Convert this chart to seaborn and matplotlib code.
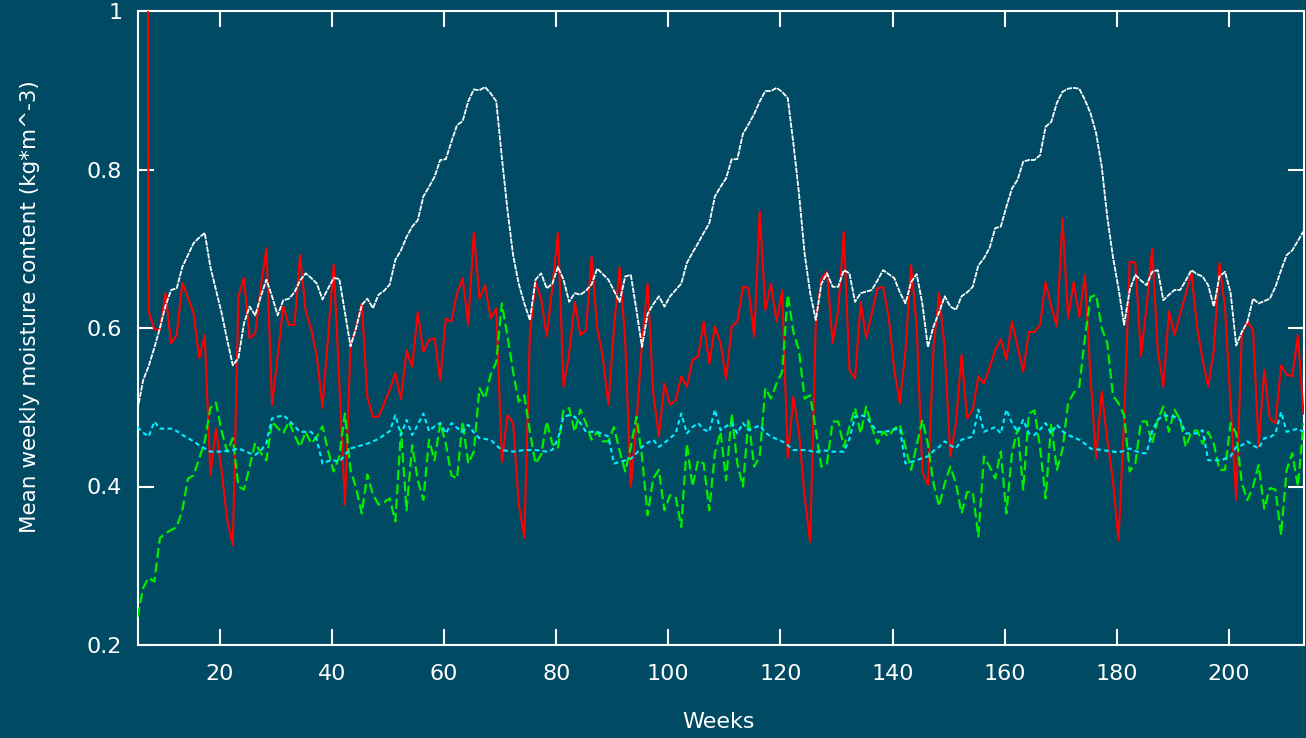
import numpy as np
import pandas as pd
import matplotlib
matplotlib.use("Agg")
import matplotlib.pyplot as plt
import seaborn as sns

# ---------------------------------------------------------------------------
# Weekly mean moisture content, one value per week starting at week 5.3
# ---------------------------------------------------------------------------
FIRST_WEEK = 5.3

white = [
    0.497, 0.534, 0.552, 0.575, 0.600, 0.628, 0.648, 0.650, 0.677, 0.692,  # 5
    0.707, 0.714, 0.720, 0.677, 0.648, 0.619, 0.585, 0.553, 0.562, 0.606,  # 15
    0.627, 0.616, 0.640, 0.661, 0.640, 0.616, 0.635, 0.637, 0.645, 0.660,  # 25
    0.669, 0.663, 0.656, 0.636, 0.650, 0.663, 0.662, 0.620, 0.577, 0.600,  # 35
    0.629, 0.637, 0.625, 0.642, 0.647, 0.655, 0.686, 0.698, 0.715, 0.728,  # 45
    0.736, 0.766, 0.778, 0.791, 0.812, 0.813, 0.835, 0.856, 0.861, 0.886,  # 55
    0.901, 0.900, 0.904, 0.896, 0.886, 0.815, 0.749, 0.692, 0.656, 0.631,  # 65
    0.610, 0.661, 0.669, 0.650, 0.656, 0.677, 0.661, 0.633, 0.644, 0.642,  # 75
    0.647, 0.655, 0.675, 0.668, 0.661, 0.647, 0.633, 0.665, 0.667, 0.623,  # 85
    0.576, 0.618, 0.630, 0.640, 0.627, 0.640, 0.648, 0.656, 0.682, 0.695,  # 95
    0.707, 0.720, 0.732, 0.766, 0.778, 0.789, 0.813, 0.813, 0.845, 0.857,  # 105
    0.870, 0.886, 0.899, 0.899, 0.903, 0.898, 0.890, 0.833, 0.770, 0.694,  # 115
    0.644, 0.610, 0.656, 0.669, 0.652, 0.652, 0.673, 0.669, 0.633, 0.644,  # 125
    0.646, 0.648, 0.660, 0.673, 0.668, 0.663, 0.645, 0.631, 0.658, 0.668,  # 135
    0.631, 0.576, 0.602, 0.620, 0.640, 0.627, 0.623, 0.640, 0.645, 0.652,  # 145
    0.679, 0.688, 0.701, 0.726, 0.728, 0.753, 0.776, 0.787, 0.810, 0.812,  # 155
    0.812, 0.818, 0.854, 0.860, 0.884, 0.898, 0.902, 0.903, 0.902, 0.888,  # 165
    0.871, 0.846, 0.804, 0.740, 0.690, 0.650, 0.604, 0.648, 0.667, 0.660,  # 175
    0.654, 0.671, 0.673, 0.635, 0.642, 0.648, 0.648, 0.660, 0.673, 0.668,  # 185
    0.665, 0.654, 0.627, 0.665, 0.671, 0.644, 0.578, 0.595, 0.608, 0.637,  # 195
    0.631, 0.634, 0.637, 0.652, 0.673, 0.692, 0.698, 0.710, 0.722,         # 205
]

red = [
    3.600, 3.500, 0.621, 0.598, 0.598, 0.644, 0.581, 0.591, 0.657, 0.638,  # 5
    0.619, 0.562, 0.591, 0.414, 0.473, 0.420, 0.358, 0.326, 0.640, 0.663,  # 15
    0.587, 0.593, 0.652, 0.701, 0.503, 0.565, 0.627, 0.604, 0.604, 0.692,  # 25
    0.621, 0.598, 0.564, 0.499, 0.590, 0.680, 0.530, 0.377, 0.580, 0.600,  # 35
    0.631, 0.513, 0.488, 0.488, 0.505, 0.522, 0.543, 0.510, 0.572, 0.551,  # 45
    0.620, 0.570, 0.585, 0.587, 0.534, 0.612, 0.608, 0.644, 0.663, 0.604,  # 55
    0.720, 0.637, 0.654, 0.612, 0.625, 0.431, 0.490, 0.480, 0.379, 0.335,  # 65
    0.593, 0.658, 0.637, 0.589, 0.652, 0.720, 0.526, 0.568, 0.633, 0.591,  # 75
    0.597, 0.690, 0.600, 0.564, 0.503, 0.600, 0.677, 0.585, 0.400, 0.480,  # 85
    0.581, 0.656, 0.518, 0.463, 0.530, 0.503, 0.509, 0.539, 0.526, 0.560,  # 95
    0.564, 0.608, 0.555, 0.602, 0.581, 0.536, 0.602, 0.608, 0.652, 0.650,  # 105
    0.589, 0.747, 0.623, 0.656, 0.608, 0.648, 0.436, 0.513, 0.469, 0.387,  # 115
    0.330, 0.606, 0.663, 0.671, 0.581, 0.623, 0.721, 0.547, 0.536, 0.633,  # 125
    0.587, 0.619, 0.650, 0.652, 0.614, 0.547, 0.505, 0.572, 0.679, 0.602,  # 135
    0.419, 0.402, 0.576, 0.644, 0.572, 0.438, 0.480, 0.566, 0.486, 0.497,  # 145
    0.539, 0.530, 0.550, 0.572, 0.586, 0.560, 0.608, 0.577, 0.545, 0.595,  # 155
    0.595, 0.604, 0.658, 0.627, 0.602, 0.738, 0.612, 0.658, 0.614, 0.667,  # 165
    0.539, 0.436, 0.520, 0.459, 0.408, 0.332, 0.484, 0.684, 0.682, 0.564,  # 175
    0.627, 0.700, 0.572, 0.526, 0.621, 0.591, 0.618, 0.643, 0.669, 0.602,  # 185
    0.560, 0.526, 0.572, 0.682, 0.625, 0.505, 0.383, 0.593, 0.608, 0.597,  # 195
    0.450, 0.547, 0.486, 0.480, 0.553, 0.541, 0.539, 0.591, 0.492,         # 205
]

green = [
    0.235, 0.272, 0.285, 0.280, 0.335, 0.341, 0.345, 0.349, 0.370, 0.410,  # 5
    0.414, 0.435, 0.457, 0.499, 0.506, 0.470, 0.444, 0.461, 0.400, 0.396,  # 15
    0.425, 0.455, 0.442, 0.433, 0.482, 0.474, 0.467, 0.482, 0.465, 0.450,  # 25
    0.469, 0.454, 0.463, 0.476, 0.445, 0.419, 0.438, 0.492, 0.421, 0.398,  # 35
    0.366, 0.415, 0.390, 0.377, 0.380, 0.385, 0.356, 0.471, 0.370, 0.452,  # 45
    0.408, 0.383, 0.459, 0.433, 0.480, 0.454, 0.414, 0.410, 0.482, 0.429,  # 55
    0.444, 0.524, 0.511, 0.541, 0.557, 0.631, 0.590, 0.545, 0.507, 0.515,  # 65
    0.469, 0.429, 0.440, 0.482, 0.454, 0.448, 0.497, 0.499, 0.469, 0.497,  # 75
    0.480, 0.459, 0.469, 0.457, 0.457, 0.475, 0.445, 0.419, 0.450, 0.488,  # 85
    0.438, 0.364, 0.410, 0.421, 0.370, 0.389, 0.387, 0.349, 0.454, 0.400,  # 95
    0.433, 0.429, 0.370, 0.442, 0.469, 0.408, 0.492, 0.429, 0.400, 0.486,  # 105
    0.425, 0.438, 0.524, 0.511, 0.530, 0.545, 0.642, 0.595, 0.572, 0.511,  # 115
    0.515, 0.471, 0.425, 0.429, 0.482, 0.482, 0.450, 0.475, 0.499, 0.467,  # 125
    0.501, 0.475, 0.454, 0.469, 0.463, 0.473, 0.478, 0.450, 0.421, 0.452,  # 135
    0.484, 0.454, 0.404, 0.375, 0.404, 0.425, 0.404, 0.366, 0.393, 0.393,  # 145
    0.337, 0.438, 0.425, 0.410, 0.444, 0.366, 0.442, 0.473, 0.396, 0.492,  # 155
    0.496, 0.450, 0.385, 0.480, 0.421, 0.446, 0.505, 0.518, 0.526, 0.587,  # 165
    0.639, 0.642, 0.600, 0.581, 0.515, 0.505, 0.490, 0.419, 0.429, 0.482,  # 175
    0.482, 0.454, 0.484, 0.501, 0.469, 0.497, 0.484, 0.450, 0.469, 0.471,  # 185
    0.454, 0.469, 0.454, 0.421, 0.421, 0.480, 0.467, 0.404, 0.383, 0.400,  # 195
    0.427, 0.372, 0.398, 0.396, 0.339, 0.421, 0.442, 0.400, 0.480,         # 205
]

cyan = [
    0.475, 0.468, 0.463, 0.482, 0.473, 0.473, 0.473, 0.470, 0.465, 0.461,  # 5
    0.457, 0.452, 0.448, 0.444, 0.444, 0.444, 0.445, 0.446, 0.448, 0.445,  # 15
    0.442, 0.440, 0.445, 0.455, 0.486, 0.488, 0.490, 0.484, 0.476, 0.469,  # 25
    0.469, 0.469, 0.459, 0.429, 0.432, 0.433, 0.431, 0.440, 0.448, 0.450,  # 35
    0.452, 0.454, 0.457, 0.460, 0.465, 0.470, 0.490, 0.465, 0.484, 0.465,  # 45
    0.478, 0.492, 0.470, 0.476, 0.480, 0.467, 0.480, 0.474, 0.469, 0.478,  # 55
    0.468, 0.461, 0.460, 0.459, 0.452, 0.446, 0.445, 0.444, 0.445, 0.446,  # 65
    0.446, 0.446, 0.445, 0.444, 0.446, 0.460, 0.488, 0.490, 0.488, 0.480,  # 75
    0.469, 0.469, 0.469, 0.466, 0.463, 0.429, 0.431, 0.433, 0.435, 0.442,  # 85
    0.450, 0.455, 0.459, 0.450, 0.455, 0.461, 0.467, 0.492, 0.467, 0.475,  # 95
    0.480, 0.472, 0.469, 0.497, 0.471, 0.476, 0.480, 0.467, 0.480, 0.471,  # 105
    0.474, 0.477, 0.468, 0.463, 0.460, 0.457, 0.452, 0.446, 0.446, 0.446,  # 115
    0.445, 0.443, 0.446, 0.445, 0.444, 0.444, 0.444, 0.460, 0.488, 0.490,  # 125
    0.488, 0.478, 0.469, 0.469, 0.470, 0.472, 0.473, 0.429, 0.431, 0.433,  # 135
    0.436, 0.438, 0.445, 0.450, 0.457, 0.452, 0.448, 0.459, 0.461, 0.463,  # 145
    0.497, 0.469, 0.472, 0.475, 0.467, 0.497, 0.480, 0.469, 0.484, 0.467,  # 155
    0.465, 0.472, 0.480, 0.467, 0.478, 0.470, 0.465, 0.462, 0.459, 0.454,  # 165
    0.448, 0.447, 0.446, 0.445, 0.444, 0.443, 0.445, 0.448, 0.445, 0.442,  # 175
    0.442, 0.470, 0.484, 0.490, 0.489, 0.488, 0.484, 0.467, 0.467, 0.467,  # 185
    0.471, 0.433, 0.433, 0.433, 0.435, 0.438, 0.450, 0.452, 0.457, 0.452,  # 195
    0.448, 0.461, 0.462, 0.467, 0.494, 0.469, 0.471, 0.473, 0.469,         # 205
]

x_ticks = [20, 40, 60, 80, 100, 120, 140, 160, 180, 200]
y_ticks = [0.2, 0.4, 0.6, 0.8, 1.0]
y_tick_labels = ["0.2", "0.4", "0.6", "0.8", "1"]

x_label = "Weeks"
y_label = "Mean weekly moisture content (kg*m^-3)"

# ---------------------------------------------------------------------------
BG = "#004a63"
FG = "white"

sns.set_theme(style="ticks")
plt.rcParams["font.family"] = ["DejaVu Sans"]

fig = plt.figure(figsize=(13.06, 7.38), dpi=100, facecolor=BG)
W, H = 1306.0, 738.0
ax = fig.add_axes([137.5 / W, (H - 645) / H, (1303.5 - 137.5) / W, (645 - 11) / H])
ax.set_facecolor(BG)


def draw(values, color, linestyle, linewidth, z):
    weeks = FIRST_WEEK + np.arange(len(values))
    frame = pd.DataFrame({"week": weeks, "value": values})
    sns.lineplot(data=frame, x="week", y="value", ax=ax, color=color,
                 linestyle=linestyle, linewidth=linewidth,
                 estimator=None, errorbar=None, sort=False, zorder=z)


draw(red, "#ff0000", "-", 1.5, 3)
draw(white, "#ffffff", (0, (3.0, 0.6)), 1.3, 4)
draw(green, "#00f000", (0, (4.5, 2.0)), 1.6, 5)
draw(cyan, "#00f0ff", (0, (2.2, 1.6)), 1.5, 6)

first = FIRST_WEEK
last = FIRST_WEEK + len(white) - 1
ax.set_xlim(first, last)
ax.set_ylim(0.2, 1.0)

ax.set_xticks(x_ticks)
ax.set_xticklabels([str(t) for t in x_ticks])
ax.set_yticks(y_ticks)
ax.set_yticklabels(y_tick_labels)
ax.minorticks_off()

for side in ["left", "right", "top", "bottom"]:
    ax.spines[side].set_visible(True)
    ax.spines[side].set_color(FG)
    ax.spines[side].set_linewidth(1.5)

ax.tick_params(axis="both", which="major", direction="in", length=11.5,
               width=1.5, color=FG, labelcolor=FG, labelsize=16,
               top=True, right=True)
ax.tick_params(axis="x", pad=14)
ax.tick_params(axis="y", pad=11)

ax.set_xlabel(x_label, color=FG, fontsize=16)
ax.set_ylabel(y_label, color=FG, fontsize=15.5)
ax.xaxis.set_label_coords(0.4985, -0.106)
ax.yaxis.set_label_coords(-0.0836, 0.533)
ax.grid(False)

fig.savefig("out.png", dpi=100, facecolor=BG)
